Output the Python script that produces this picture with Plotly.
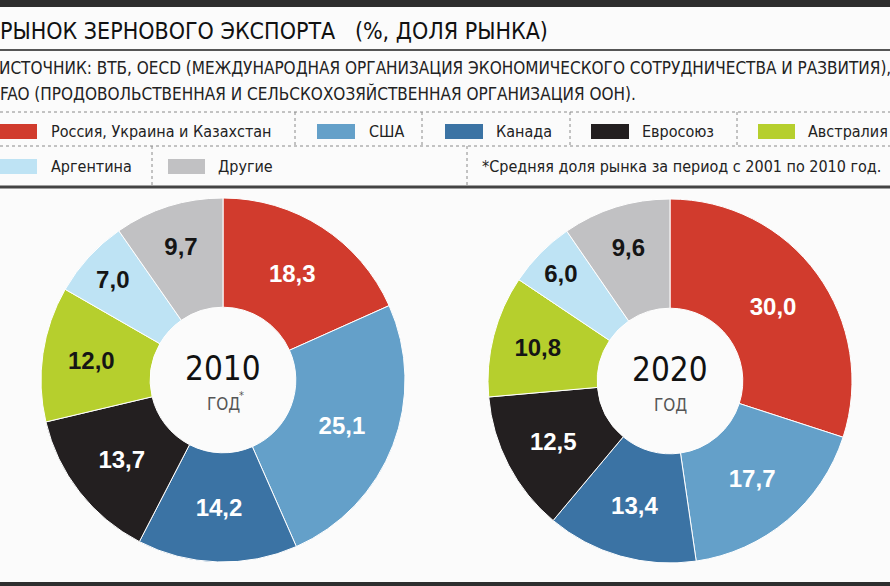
import plotly.graph_objects as go

# ── Data ──────────────────────────────────────────────────────
CATEGORIES = ["Россия, Украина и Казахстан", "США", "Канада", "Евросоюз",
              "Австралия", "Аргентина", "Другие"]
SHARE_2010 = [18.3, 25.1, 14.2, 13.7, 12.0, 7.0, 9.7]
SHARE_2020 = [30.0, 17.7, 13.4, 12.5, 10.8, 6.0, 9.6]
YEARS = ["2010", "2020"]

TITLE = "РЫНОК ЗЕРНОВОГО ЭКСПОРТА   (%, ДОЛЯ РЫНКА)"
SOURCE_1 = "ИСТОЧНИК: ВТБ, OECD (МЕЖДУНАРОДНАЯ ОРГАНИЗАЦИЯ ЭКОНОМИЧЕСКОГО СОТРУДНИЧЕСТВА И РАЗВИТИЯ),"
SOURCE_2 = "FAO (ПРОДОВОЛЬСТВЕННАЯ И СЕЛЬСКОХОЗЯЙСТВЕННАЯ ОРГАНИЗАЦИЯ ООН)."
FOOTNOTE = "*Средняя доля рынка за период с 2001 по 2010 год."

# ── Style ─────────────────────────────────────────────────────
COLORS = ["#d13b2d", "#64a0c9", "#3b73a4", "#231f20", "#b6cf2d", "#bee3f4", "#c1c1c3"]
TEXT_COLORS = ["white", "white", "white", "white", "#151515", "#151515", "#151515"]
W, H = 890, 586
NARROW = "DejaVu Sans Condensed, Liberation Sans Narrow, sans-serif"
BOLD = "Liberation Sans, Arial, sans-serif"


def px(x):
    return x / W


def py(y):
    return 1 - y / H


fig = go.Figure()

# donuts: (center x, center y, radius) in pixels
donuts = [(223, 380, 182), (670, 381, 182)]
for shares, (cx, cy, r) in zip([SHARE_2010, SHARE_2020], donuts):
    fig.add_trace(go.Pie(
        labels=CATEGORIES, values=shares, sort=False, direction="clockwise",
        rotation=0, hole=0.40,
        marker=dict(colors=COLORS, line=dict(color="white", width=1)),
        texttemplate="%{value:.1f}", textposition="inside",
        insidetextorientation="horizontal",
        insidetextfont=dict(family=BOLD, size=24, color=TEXT_COLORS, weight="bold"),
        domain=dict(x=[px(cx - r), px(cx + r)], y=[py(cy + r), py(cy - r)]),
        hoverinfo="label+value", showlegend=False,
    ))

shapes = []
annotations = []

# top bar, title rule, bottom rule
shapes.append(dict(type="rect", xref="paper", yref="paper", x0=0, x1=1,
                   y0=py(7), y1=1, fillcolor="#2e2e2e", line_width=0))
shapes.append(dict(type="line", xref="paper", yref="paper", x0=0, x1=1,
                   y0=py(50), y1=py(50), line=dict(color="#555", width=2)))
shapes.append(dict(type="line", xref="paper", yref="paper", x0=0, x1=1,
                   y0=py(187), y1=py(187), line=dict(color="#444", width=3)))
shapes.append(dict(type="rect", xref="paper", yref="paper", x0=0, x1=1,
                   y0=0, y1=py(582), fillcolor="#2e2e2e", line_width=0))

# dotted legend grid
dot = dict(color="#8a8a8a", width=1, dash="dot")
for yy in (112, 146):
    shapes.append(dict(type="line", xref="paper", yref="paper", x0=0, x1=1,
                       y0=py(yy), y1=py(yy), line=dot))
for xx in (295, 422, 570, 737):
    shapes.append(dict(type="line", xref="paper", yref="paper", x0=px(xx), x1=px(xx),
                       y0=py(112), y1=py(146), line=dot))
for xx in (152, 467):
    shapes.append(dict(type="line", xref="paper", yref="paper", x0=px(xx), x1=px(xx),
                       y0=py(146), y1=py(186), line=dot))

# legend items: swatch x0, swatch x1, text x, row centre y
legend_pos = [(0, 37, 49, 131), (317, 355, 367, 131), (445, 483, 494, 131),
              (591, 629, 640, 131), (758, 795, 806, 131),
              (0, 37, 49, 166), (168, 205, 216, 166)]
for name, color, (sx0, sx1, tx, cyy) in zip(CATEGORIES, COLORS, legend_pos):
    shapes.append(dict(type="rect", xref="paper", yref="paper", x0=px(sx0), x1=px(sx1),
                       y0=py(cyy + 8), y1=py(cyy - 7), fillcolor=color, line_width=0))
    annotations.append(dict(x=px(tx), y=py(cyy), xref="paper", yref="paper",
                            text=name, showarrow=False, xanchor="left", yanchor="middle",
                            font=dict(family=NARROW, size=16, color="#222")))
annotations.append(dict(x=px(480), y=py(166), xref="paper", yref="paper",
                        text=FOOTNOTE, showarrow=False, xanchor="left", yanchor="middle",
                        font=dict(family=NARROW, size=16, color="#222")))

# title and source
annotations.append(dict(x=px(-2), y=py(31), xref="paper", yref="paper", text=TITLE,
                        showarrow=False, xanchor="left", yanchor="middle",
                        font=dict(family=NARROW, size=23, color="#111")))
annotations.append(dict(x=px(-3), y=py(68), xref="paper", yref="paper", text=SOURCE_1,
                        showarrow=False, xanchor="left", yanchor="middle",
                        font=dict(family=NARROW, size=17, color="#222")))
annotations.append(dict(x=px(-2), y=py(93), xref="paper", yref="paper", text=SOURCE_2,
                        showarrow=False, xanchor="left", yanchor="middle",
                        font=dict(family=NARROW, size=17, color="#222")))

# donut centre labels
for year, (cx, cy, r), star in zip(YEARS, donuts, ["*", ""]):
    annotations.append(dict(x=px(cx), y=py(cy - 12), xref="paper", yref="paper",
                            text=year, showarrow=False, xanchor="center", yanchor="middle",
                            font=dict(family=NARROW, size=33, color="#111")))
    annotations.append(dict(x=px(cx), y=py(cy + 24), xref="paper", yref="paper",
                            text="ГОД", showarrow=False, xanchor="center", yanchor="middle",
                            font=dict(family=NARROW, size=17, color="#555")))
    if star:
        annotations.append(dict(x=px(cx + 19), y=py(cy + 15), xref="paper", yref="paper",
                                text=star, showarrow=False, xanchor="center", yanchor="middle",
                                font=dict(family=NARROW, size=11, color="#555")))

fig.update_layout(
    width=W, height=H,
    margin=dict(l=0, r=0, t=0, b=0),
    paper_bgcolor="#fbfbfb", plot_bgcolor="#fbfbfb",
    separators=", ",
    uniformtext=dict(minsize=24, mode="show"),
    shapes=shapes, annotations=annotations,
)

fig.write_html("out.html", config={"displayModeBar": False},
               post_script="document.body.style.margin='0';")
